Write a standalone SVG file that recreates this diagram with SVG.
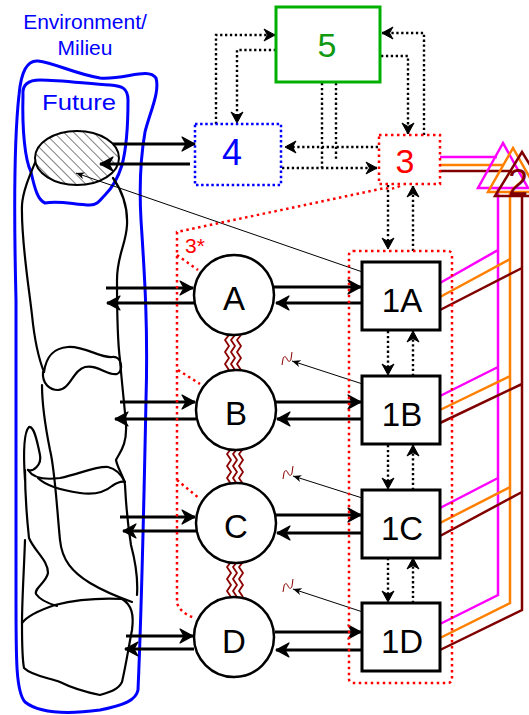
<svg xmlns="http://www.w3.org/2000/svg" width="529" height="715" viewBox="0 0 529 715">
<style>
text{font-family:"Liberation Sans",Arial,sans-serif;}
.blue{fill:none;stroke:#0000ff;stroke-width:3;stroke-linejoin:round}
.free{fill:none;stroke:#000;stroke-width:2.2;stroke-linejoin:round;stroke-linecap:round}
.arr{fill:none;stroke:#000;stroke-width:3;marker-end:url(#ah)}
.dot{fill:none;stroke:#000;stroke-width:2.4;stroke-dasharray:2.3 2.6}
.dota{fill:none;stroke:#000;stroke-width:2.4;stroke-dasharray:2.3 2.6;marker-end:url(#dh)}
.reddot{fill:none;stroke:#ff0000;stroke-width:2.5;stroke-dasharray:2.5 3.5}
.thin{fill:none;stroke:#000;stroke-width:1;marker-start:url(#th);marker-end:url(#th)}
.box{fill:#fff;stroke:#000;stroke-width:3}
.circ{fill:#fff;stroke:#000;stroke-width:2.5}
.wave{fill:none;stroke:#8b0000;stroke-width:1.8;stroke-linejoin:round}
.mag{stroke:#ff00ff;stroke-width:2.5;fill:none}
.org{stroke:#ff8000;stroke-width:2.5;fill:none}
.drd{stroke:#800000;stroke-width:2.5;fill:none}
.lbl{font-size:33px;text-anchor:middle;fill:#000}
</style>
<defs>
<marker id="ah" markerUnits="userSpaceOnUse" markerWidth="16" markerHeight="16" viewBox="0 0 16 16" refX="14" refY="8" orient="auto"><path d="M1,1 L14,8 L1,15 L5,8 Z" fill="#000" stroke="#000" stroke-width="1.2" stroke-linejoin="round"/></marker>
<marker id="dh" markerUnits="userSpaceOnUse" markerWidth="14" markerHeight="14" viewBox="0 0 14 14" refX="12" refY="7" orient="auto"><path d="M1,1 L12,7 L1,13 L4.5,7 Z" fill="#000" stroke="#000" stroke-width="1" stroke-linejoin="round"/></marker>
<marker id="th" markerUnits="userSpaceOnUse" markerWidth="9" markerHeight="8" viewBox="0 0 9 8" refX="8.5" refY="4" orient="auto-start-reverse"><path d="M0,0.5 L8.5,4 L0,7.5 L2.5,4 Z" fill="#000"/></marker>
<pattern id="hatch" patternUnits="userSpaceOnUse" width="7" height="7" patternTransform="rotate(-45)"><line x1="0" y1="0" x2="0" y2="7" stroke="#000" stroke-width="1"/></pattern>
<path id="wv" d="M0,0 l-4,5 l4,6 l-4,6 l4,6 l-4,6 l4,6"/>
<path id="sq" d="M0,14 l1,-6 c0.5,-3 3,-3 4,0 c1,3 3.5,3 4,0 l1,-7"/>
</defs>

<g id="environment">
<path class="blue" d="M16,300 C14,220 14,140 19,95 C21,72 27,60 38,61 C55,63 75,74 100,78 C125,80 148,67 156,78 C160,92 150,112 145,132 C141,155 139,185 141,220 C145,280 148,330 146,400 C144,500 142,600 138,690 C136,700 125,705 100,710 C70,714 40,714 25,702 C16,692 16,660 16,600 Z"/>
<text x="85" y="29" font-size="21" fill="#0000ff" text-anchor="middle">Environment/</text>
<text x="85" y="55" font-size="21" fill="#0000ff" text-anchor="middle">Milieu</text>
</g>
<g id="future">
<path class="blue" d="M23,95 C22,85 28,80 40,80 C60,80 90,84 110,85 C122,86 128,88 128,100 C128,130 126,150 122,165 C118,178 112,188 105,195 C100,200 98,205 90,205 C75,205 60,200 45,203 C38,200 35,190 31,172 C25,160 22,130 23,95 Z"/>
<text x="42" y="110" font-size="22" fill="#0000ff" textLength="74" lengthAdjust="spacingAndGlyphs">Future</text>
</g>

<g id="freehand">
<path class="free" d="M37,158 C30,175 23,190 22,205 C21,240 28,280 32,315 C35,345 40,362 44,372"/>
<path class="free" d="M113,178 C120,188 128,205 127,225 C126,245 117,255 117,280 C117,320 118,345 120,360 C122,385 125,410 126,425 C127,445 120,452 116,460 C118,470 124,476 125,485 C126,505 127,520 131,545 C135,560 138,580 137,595"/>
<path class="free" d="M44,372 C46,358 52,348 68,347 C85,346 100,358 112,357 C122,355 124,372 117,374 C107,376 98,364 85,367 C73,370 70,390 58,390 C50,390 42,384 43,372"/>
<path class="free" d="M42,385 C42,405 46,430 50,450 C55,470 57,510 60,540 C62,560 72,572 90,583 C105,592 118,597 132,602"/>
<path class="free" d="M25,480 C23,450 24,432 29,427 C34,426 37,440 40,455 C42,465 33,472 28,470"/>
<path class="free" d="M25,470 C25,490 26,510 29,538 C35,552 48,560 48,573 C46,583 34,588 36,594 C40,600 50,604 57,606"/>
<path class="free" d="M28,470 C33,478 45,480 60,478 C80,474 95,466 108,467 C117,469 122,476 125,482"/>
<path class="free" d="M38,478 C45,485 60,490 80,493 C95,495 105,492 112,486 C118,482 122,481 125,482"/>
<path class="free" d="M22,623 C22,640 22,658 24,668 C32,676 50,678 60,682 C72,688 85,692 100,695 C110,692 118,690 122,682 C126,665 129,645 132,630 C134,615 132,605 122,599 C100,598 75,600 55,605 C40,610 28,615 22,623 Z"/>
<path class="free" d="M25,540 C24,570 22,600 22,623"/>
</g>

<g id="focus">
<ellipse cx="77" cy="158" rx="42" ry="27" fill="#fff"/>
<ellipse cx="77" cy="158" rx="42" ry="27" fill="url(#hatch)" stroke="#000" stroke-width="2"/>
</g>

<g id="connectors">
<path class="thin" d="M377,277 L76,173"/>
<path class="thin" d="M378,389 L292,361"/>
<path class="thin" d="M378,503 L293,476"/>
<path class="thin" d="M378,617 L293,589"/>
<path class="arr" d="M113,144 H195"/>
<path class="arr" d="M190,164 H100"/>
<path class="dota" d="M216,124 V35 H275"/>
<path class="dota" d="M276,50 H237 V123"/>
<path class="dot" d="M322,83 V168"/>
<path class="dot" d="M336,83 V160"/>
<path class="dota" d="M378,147 H285"/>
<path class="dota" d="M282,168 H377"/>
<path class="dota" d="M381,56 H408 V134"/>
<path class="dota" d="M424,135 V33 H382"/>
<path class="dota" d="M388,185 V249"/>
<path class="dota" d="M413,251 V186"/>
<path class="dota" d="M388,331 V375"/>
<path class="dota" d="M413,376 V331"/>
<path class="dota" d="M388,445 V489"/>
<path class="dota" d="M413,490 V445"/>
<path class="dota" d="M388,558 V602"/>
<path class="dota" d="M413,603 V558"/>
<path class="arr" d="M106,288 H193"/>
<path class="arr" d="M194,303 H107"/>
<path class="arr" d="M120,402 H195"/>
<path class="arr" d="M196,419 H115"/>
<path class="arr" d="M120,517 H195"/>
<path class="arr" d="M196,531 H123"/>
<path class="arr" d="M126,636 H193"/>
<path class="arr" d="M194,649 H125"/>
<path class="arr" d="M274,287 H361"/>
<path class="arr" d="M362,303 H276"/>
<path class="arr" d="M276,402 H361"/>
<path class="arr" d="M362,419 H277"/>
<path class="arr" d="M276,515 H361"/>
<path class="arr" d="M362,533 H277"/>
<path class="arr" d="M275,632 H361"/>
<path class="arr" d="M362,650 H276"/>
<path class="mag" d="M440,157 H497"/>
<path class="org" d="M440,165 H503"/>
<path class="drd" d="M440,171 H512"/>
<path class="mag" d="M498,188 V595 L440,624 M440,283 L498,250 M440,396 L498,367 M440,508 L498,478"/>
<path class="org" d="M510,192 V603 L440,638 M440,297 L510,259 M440,410 L510,376 M440,523 L510,487"/>
<path class="drd" d="M522,196 V610 L440,650 M440,310 L522,268 M440,423 L522,384 M440,536 L522,492"/>
<g class="wave">
<use href="#wv" x="229" y="335"/><use href="#wv" x="235" y="335"/><use href="#wv" x="241" y="335"/>
<use href="#wv" x="231" y="449"/><use href="#wv" x="237" y="449"/><use href="#wv" x="243" y="449"/>
<use href="#wv" x="231" y="562"/><use href="#wv" x="237" y="562"/><use href="#wv" x="243" y="562"/>
</g>
<g fill="none" stroke="#8b0000" stroke-width="1">
<use href="#sq" x="282" y="351"/>
<use href="#sq" x="283" y="465"/>
<use href="#sq" x="283" y="578"/>
</g>
</g>

<g id="node-3star">
<path class="reddot" d="M400,186 Q392,190 385,188 L177,232 V603 Q180,613 195,618"/>
<path class="reddot" d="M177,255 L198,270 M178,370 L200,384 M177,480 L200,499"/>
<text x="185" y="253" font-size="21" fill="#ff0000">3*</text>
</g>

<g id="node-group1">
<rect class="reddot" x="349" y="251" width="103" height="432" rx="4"/>
</g>

<g id="node-5">
<rect x="276" y="7" width="104" height="75" fill="#fff" stroke="#00b000" stroke-width="3"/>
<text x="327" y="57" font-size="34" fill="#119911" text-anchor="middle">5</text>
</g>
<g id="node-4">
<rect x="195" y="124" width="86" height="61" fill="none" stroke="#0000ff" stroke-width="2.5" stroke-dasharray="2.5 2.6"/>
<text x="232" y="165" font-size="36" fill="#0000ff" text-anchor="middle">4</text>
</g>
<g id="node-3">
<rect class="reddot" x="379" y="135" width="61" height="49"/>
<text x="405" y="173" font-size="34" fill="#ff0000" text-anchor="middle">3</text>
</g>
<g id="node-2">
<path d="M503,143 L478,188 L528,188 Z" fill="none" stroke="#ff00ff" stroke-width="2.5"/>
<path d="M513,148 L488,192 L538,192 Z" fill="none" stroke="#ff8000" stroke-width="2.5"/>
<path d="M522,152 L495,196 L549,196 Z" fill="none" stroke="#800000" stroke-width="2.5"/>
<text x="508" y="195" font-size="36" fill="#800000">2</text>
</g>

<g id="node-A"><circle class="circ" cx="234" cy="295" r="40"/><text class="lbl" x="234" y="310">A</text></g>
<g id="node-B"><circle class="circ" cx="236" cy="410" r="40"/><text class="lbl" x="236" y="425">B</text></g>
<g id="node-C"><circle class="circ" cx="236" cy="523" r="40"/><text class="lbl" x="236" y="538">C</text></g>
<g id="node-D"><circle class="circ" cx="234" cy="637" r="40"/><text class="lbl" x="234" y="653">D</text></g>

<g id="node-1A"><rect class="box" x="362" y="262" width="78" height="68"/><text class="lbl" x="402" y="312">1A</text></g>
<g id="node-1B"><rect class="box" x="362" y="376" width="78" height="68"/><text class="lbl" x="402" y="426">1B</text></g>
<g id="node-1C"><rect class="box" x="362" y="490" width="78" height="68"/><text class="lbl" x="402" y="540">1C</text></g>
<g id="node-1D"><rect class="box" x="362" y="603" width="78" height="68"/><text class="lbl" x="402" y="653">1D</text></g>
</svg>
